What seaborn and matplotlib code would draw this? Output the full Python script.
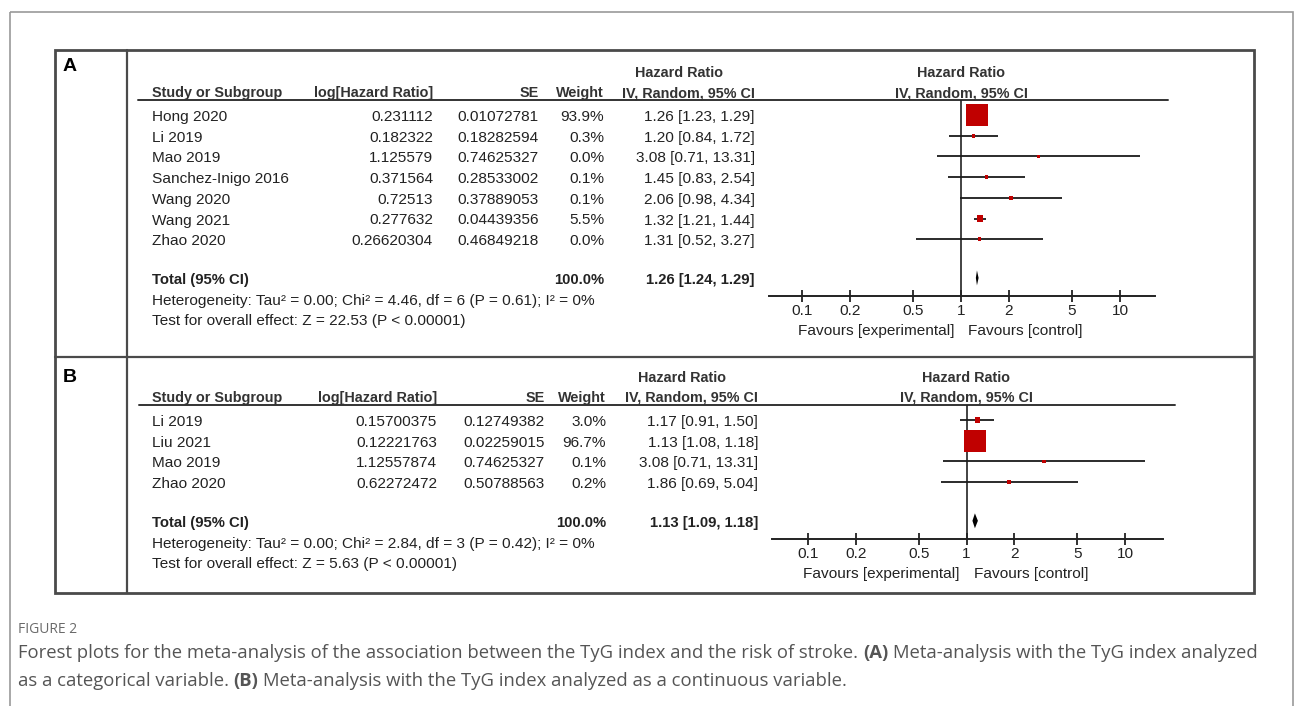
import numpy as np
import matplotlib
matplotlib.use("Agg")
import matplotlib.pyplot as plt
from matplotlib.patches import Rectangle
from matplotlib.ticker import NullLocator
import seaborn as sns

sns.set_theme(style="white")
plt.rcParams['font.family'] = ['Liberation Sans', 'DejaVu Sans']

# ---- panel A: TyG index as a categorical variable
studies_a = ["Hong 2020", "Li 2019", "Mao 2019", "Sanchez-Inigo 2016",
             "Wang 2020", "Wang 2021", "Zhao 2020"]
loghr_a = ["0.231112", "0.182322", "1.125579", "0.371564",
           "0.72513", "0.277632", "0.26620304"]
se_a = ["0.01072781", "0.18282594", "0.74625327", "0.28533002",
        "0.37889053", "0.04439356", "0.46849218"]
weight_a = [93.9, 0.3, 0.0, 0.1, 0.1, 5.5, 0.0]
hr_a = [1.26, 1.20, 3.08, 1.45, 2.06, 1.32, 1.31]
lo_a = [1.23, 0.84, 0.71, 0.83, 0.98, 1.21, 0.52]
hi_a = [1.29, 1.72, 13.31, 2.54, 4.34, 1.44, 3.27]
total_a = [1.26, 1.24, 1.29]
het_a = "Heterogeneity: Tau\u00b2 = 0.00; Chi\u00b2 = 4.46, df = 6 (P = 0.61); I\u00b2 = 0%"
test_a = "Test for overall effect: Z = 22.53 (P < 0.00001)"

# ---- panel B: TyG index as a continuous variable
studies_b = ["Li 2019", "Liu 2021", "Mao 2019", "Zhao 2020"]
loghr_b = ["0.15700375", "0.12221763", "1.12557874", "0.62272472"]
se_b = ["0.12749382", "0.02259015", "0.74625327", "0.50788563"]
weight_b = [3.0, 96.7, 0.1, 0.2]
hr_b = [1.17, 1.13, 3.08, 1.86]
lo_b = [0.91, 1.08, 0.71, 0.69]
hi_b = [1.50, 1.18, 13.31, 5.04]
total_b = [1.13, 1.09, 1.18]
het_b = "Heterogeneity: Tau\u00b2 = 0.00; Chi\u00b2 = 2.84, df = 3 (P = 0.42); I\u00b2 = 0%"
test_b = "Test for overall effect: Z = 5.63 (P < 0.00001)"

ticks = [0.1, 0.2, 0.5, 1, 2, 5, 10]
tick_labels = ["0.1", "0.2", "0.5", "1", "2", "5", "10"]

W, H = 1295, 706
TXT = '#222222'
FS = 11.1
HFS = 10.4
STEP = 20.7

fig = plt.figure(figsize=(W / 100, H / 100), dpi=100)
bg = fig.add_axes([0, 0, 1, 1])
bg.set_xlim(0, W)
bg.set_ylim(H, 0)
bg.axis('off')

# frames
bg.add_patch(Rectangle((10, 12), 1283, 720, fill=False, ec='#9a9a9a', lw=1.2))
bg.add_patch(Rectangle((55, 50), 1199, 543, fill=False, ec='#4a4a4a', lw=2))
bg.plot([127, 127], [50, 593], color='#4a4a4a', lw=1.6)
bg.plot([55, 1254], [357, 357], color='#4a4a4a', lw=1.6)
bg.text(63, 71, "A", fontsize=14, fontweight='bold', color='black')
bg.text(63, 382, "B", fontsize=14, fontweight='bold', color='black')


def draw_panel(studies, loghr, se, weight, hr, lo, hi, total, het, test, g):
    top, r0 = g['line'], g['row0']
    n = len(studies)
    rows = np.arange(n)
    tot = n + 0.87

    # header
    bg.plot([g['l0'], g['l1']], [top, top], color='#333333', lw=1.4)
    hb = dict(fontsize=HFS, fontweight='bold', color='#333333')
    bg.text(152, top - 3, "Study or Subgroup", **hb)
    bg.text(g['c_log'], top - 3, "log[Hazard Ratio]", ha='right', **hb)
    bg.text(g['c_se'], top - 3, "SE", ha='right', **hb)
    bg.text(g['c_w'], top - 3, "Weight", ha='right', **hb)
    bg.text(g['c_hr'] - 76, top - 23, "Hazard Ratio", ha='center', **hb)
    bg.text(g['c_hr'], top - 3, "IV, Random, 95% CI", ha='right', **hb)
    bg.text(g['c1'], top - 23, "Hazard Ratio", ha='center', **hb)
    bg.text(g['c1'], top - 3, "IV, Random, 95% CI", ha='center', **hb)

    nb = dict(fontsize=FS, color=TXT)
    for i in range(n):
        yb = r0 + STEP * i + 6
        bg.text(152, yb, studies[i], **nb)
        bg.text(g['c_log'], yb, loghr[i], ha='right', **nb)
        bg.text(g['c_se'], yb, se[i], ha='right', **nb)
        bg.text(g['c_w'], yb, f"{weight[i]:.1f}%", ha='right', **nb)
        bg.text(g['c_hr'], yb, f"{hr[i]:.2f} [{lo[i]:.2f}, {hi[i]:.2f}]", ha='right', **nb)

    yt = r0 + STEP * tot + 6
    tb = dict(fontsize=HFS + 0.3, fontweight='bold', color=TXT)
    bg.text(152, yt, "Total (95% CI)", **tb)
    bg.text(g['c_w'], yt, "100.0%", ha='right', **tb)
    bg.text(g['c_hr'], yt, f"{total[0]:.2f} [{total[1]:.2f}, {total[2]:.2f}]", ha='right', **tb)
    bg.text(152, yt + STEP, het, **nb)
    bg.text(152, yt + 2 * STEP, test, **nb)

    # forest plot
    x0, x1, c1, dec = g['ax0'], g['ax1'], g['c1'], g['dec']
    ax = fig.add_axes([x0 / W, 1 - g['axis'] / H, (x1 - x0) / W, (g['axis'] - top) / H])
    ax.patch.set_alpha(0)
    ax.set_xscale('log')
    ax.hlines(rows, lo, hi, color='#1a1a1a', lw=1.3, zorder=2)
    sns.scatterplot(x=hr, y=rows, size=weight, sizes=(6, 260), size_norm=(0, 100),
                    marker='s', color='#c00000', linewidth=0, legend=False,
                    ax=ax, zorder=3)
    e, l, u = total
    ax.fill([l, e, u, e], [tot, tot - 0.36, tot, tot + 0.36], color='black', lw=0, zorder=3)
    ax.axvline(1, color='#222222', lw=1.2, zorder=1)
    for s in ['top', 'left', 'right']:
        ax.spines[s].set_visible(False)
    ax.spines['bottom'].set_color('#222222')
    ax.spines['bottom'].set_linewidth(1.4)
    ax.set_xticks(ticks)
    ax.set_xticklabels(tick_labels)
    ax.xaxis.set_minor_locator(NullLocator())
    ax.tick_params(axis='x', direction='inout', length=9, width=1.3, pad=1,
                   labelsize=FS, colors='#222222', bottom=True)
    ax.set_yticks([])
    ax.set_xlabel('')
    ax.set_ylabel('')
    ax.set_xlim(10 ** ((x0 - c1) / dec), 10 ** ((x1 - c1) / dec))
    ax.set_ylim((g['axis'] - r0) / STEP, (top - r0) / STEP)

    bg.text(c1 - 7, g['axis'] + 39, "Favours [experimental]", ha='right', **nb)
    bg.text(c1 + 7, g['axis'] + 39, "Favours [control]", ha='left', **nb)


geo_a = dict(line=100, row0=115, axis=296, l0=138, l1=1168, ax0=769, ax1=1155,
             c1=961, dec=159, c_log=433, c_se=539, c_w=604, c_hr=755)
geo_b = dict(line=405, row0=420, axis=539, l0=139, l1=1175, ax0=772, ax1=1163,
             c1=966.5, dec=158.5, c_log=437, c_se=545, c_w=606, c_hr=758)

draw_panel(studies_a, loghr_a, se_a, weight_a, hr_a, lo_a, hi_a, total_a, het_a, test_a, geo_a)
draw_panel(studies_b, loghr_b, se_b, weight_b, hr_b, lo_b, hi_b, total_b, het_b, test_b, geo_b)

# caption
bg.text(18, 633, "FIGURE 2", fontsize=10, color='#6a6a6a', family=['Open Sans', 'DejaVu Sans'])

fig.canvas.draw()
rend = fig.canvas.get_renderer()
CAP = dict(fontsize=13.3, color='#555555', family=['Open Sans', 'DejaVu Sans'])


def width(s, **kw):
    t = bg.text(0, 0, s, **kw)
    w = t.get_window_extent(rend).width
    t.remove()
    return w


def rich_line(x, y, parts):
    sp = width("x x", **CAP) - width("xx", **CAP)
    for txt, wt in parts:
        t = bg.text(x, y, txt, fontweight=wt, **CAP)
        x += t.get_window_extent(rend).width + sp


rich_line(18, 658, [("Forest plots for the meta-analysis of the association between the TyG "
                     "index and the risk of stroke.", 'normal'), ("(A)", 'bold'),
                    ("Meta-analysis with the TyG index analyzed", 'normal')])
rich_line(18, 686, [("as a categorical variable.", 'normal'), ("(B)", 'bold'),
                    ("Meta-analysis with the TyG index analyzed as a continuous variable.", 'normal')])

fig.savefig("out.png", dpi=100)
